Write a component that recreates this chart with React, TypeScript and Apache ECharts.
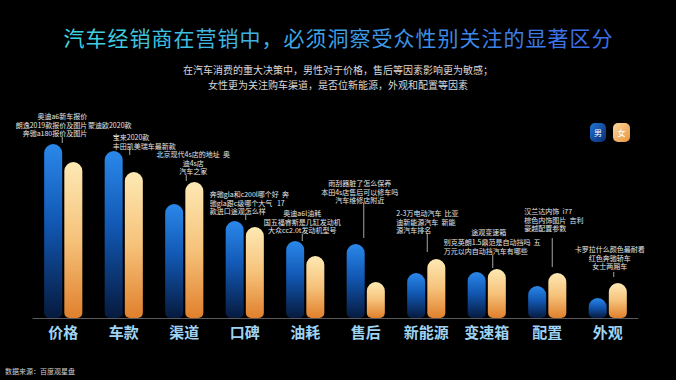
import React, { useEffect, useRef } from 'react';
import * as echarts from 'echarts';

const categories = ['价格', '车款', '渠道', '口碑', '油耗', '售后', '新能源', '变速箱', '配置', '外观'];
const maleValues = [174, 167, 114, 97, 77, 74, 45, 46, 32, 20];
const femaleValues = [156, 146, 136, 91, 62, 36, 59, 49, 45, 35];
const seriesNames = ['男', '女'];
const keywordLines = [
  ['奥迪a6新车报价', '朗逸2019款报价及图片', '奔驰a180报价及图片'],
  ['蒙迪欧2020款', '宝来2020款', '丰田凯美瑞车最新款'],
  ['北京现代4s店的地址  奥', '迪4s店', '汽车之家'],
  ['奔驰gla和c200l哪个好  奔', '驰gla跟c级哪个大气   17', '款进口途观怎么样'],
  ['奥迪a6l油耗', '国五福睿斯是几缸发动机', '大众cc2.0t发动机型号'],
  ['雨刮器脏了怎么保养', '本田4s店售后可以修车吗', '汽车维修店附近'],
  ['2-3万电动汽车  比亚', '迪新能源汽车  新能', '源汽车排名'],
  ['途观变速箱', '别克英朗1.5鼎范是自动挡吗  五', '万元以内自动挡汽车有哪些'],
  ['汉兰达内饰  i77', '棕色内饰图片  吉利', '豪越配置参数'],
  ['卡罗拉什么颜色最耐看', '红色奔驰轿车', '女士两厢车'],
];
const titleText = '汽车经销商在营销中，必须洞察受众性别关注的显著区分';
const subtitleLines = [
  '在汽车消费的重大决策中，男性对于价格，售后等因素影响更为敏感；',
  '女性更为关注购车渠道，是否位新能源，外观和配置等因素',
];
const sourceText = '数据来源：百度观星盘';

// layout of the keyword notes, relative to the top of the taller bar of each category
// leader: [dx, y1, y2]; blocks: [firstLine, lastLine, dx, dy of first line centre, align]
type Align = 'left' | 'center' | 'right';
const noteLayout: { leader: number[]; blocks: [number, number, number, number, Align][] }[] = [
  { leader: [-1, -7, -1], blocks: [[0, 2, 24, -28, 'right']] },
  { leader: [6, -3, 4], blocks: [[0, 0, -14, -26, 'center'], [1, 2, -11, -14, 'left']] },
  { leader: [2, -7, -1], blocks: [[0, 2, 9, -28, 'center']] },
  { leader: [1, -7, -1], blocks: [[0, 2, -35, -27, 'left']] },
  { leader: [-3, -7, 0], blocks: [[0, 2, -3, -28, 'center']] },
  { leader: [-2, -41, -6], blocks: [[0, 2, -6, -61, 'center']] },
  { leader: [1, -26, -7], blocks: [[0, 2, -30, -46, 'left']] },
  { leader: [6, -14, -1], blocks: [[0, 0, 2, -37, 'center'], [1, 2, -43, -27, 'left']] },
  { leader: [5, -35, -6], blocks: [[0, 2, -23, -62, 'left']] },
  { leader: [6, -11, -6], blocks: [[0, 2, 2, -34, 'center']] },
];

const FONT = 'Noto Sans CJK SC';
const NOTE_LH = 8.5;

function mix(a: number[], b: number[], t: number) {
  const c = a.map((v, k) => Math.round(v + (b[k] - v) * t));
  return `rgb(${c[0]},${c[1]},${c[2]})`;
}

export default function App() {
  const ref = useRef<HTMLDivElement>(null);

  useEffect(() => {
    document.body.style.margin = '0';
    document.body.style.background = '#000';
    const chart = echarts.init(ref.current!, undefined, { renderer: 'svg' });
    const LG = echarts.graphic.LinearGradient;

    const blueGrad = new LG(0, 0, 0, 1, [
      { offset: 0, color: '#2a88ea' },
      { offset: 0.45, color: '#1258b4' },
      { offset: 1, color: '#061a3e' },
    ]);
    const orangeGrad = new LG(0, 0, 0, 1, [
      { offset: 0, color: '#fde9b4' },
      { offset: 0.5, color: '#f6c27a' },
      { offset: 1, color: '#e0802c' },
    ]);

    const noteData = categories.map((_, i) => [i, Math.max(maleValues[i], femaleValues[i])]);

    // title with a cyan -> blue colour sweep, one rich style per character
    const chars = Array.from(titleText);
    const rich: any = {};
    chars.forEach((_, k) => {
      rich['c' + k] = {
        color: mix([64, 210, 222], [60, 108, 232], k / (chars.length - 1)),
        fontSize: 21,
        fontFamily: FONT,
        padding: [0, 0.5],
      };
    });
    const titleRich = chars.map((ch, k) => `{c${k}|${ch}}`).join('');

    const option: any = {
      animation: false,
      backgroundColor: '#000',
      title: {
        text: titleRich,
        left: 'center',
        top: 26,
        padding: 0,
        textStyle: { rich, fontSize: 21, fontFamily: FONT, fontWeight: 'normal', color: '#3fa0e0' },
      },
      grid: { left: 33, right: 38, top: 118, bottom: 62 },
      xAxis: {
        type: 'category',
        data: categories,
        axisLine: { lineStyle: { color: '#5a5a5a', width: 1 } },
        axisTick: { show: false },
        axisLabel: {
          interval: 0,
          color: '#9fd3f3',
          fontSize: 15,
          fontWeight: 'bold',
          fontFamily: FONT,
          margin: 6,
        },
      },
      yAxis: { type: 'value', min: 0, max: 200, show: false },
      series: [
        {
          name: seriesNames[0],
          type: 'bar',
          data: maleValues,
          barWidth: 18,
          barGap: '12%',
          itemStyle: { color: blueGrad, borderRadius: [9, 9, 5, 5] },
        },
        {
          name: seriesNames[1],
          type: 'bar',
          data: femaleValues,
          barWidth: 18,
          barGap: '12%',
          itemStyle: { color: orangeGrad, borderRadius: [9, 9, 5, 5] },
        },
        {
          type: 'custom',
          clip: false,
          silent: true,
          data: noteData,
          renderItem: (params: any, api: any) => {
            const i = api.value(0);
            const pt = api.coord([i, api.value(1)]);
            const lay = noteLayout[i];
            const children: any[] = [
              {
                type: 'line',
                shape: {
                  x1: pt[0] + lay.leader[0],
                  y1: pt[1] + lay.leader[1],
                  x2: pt[0] + lay.leader[0],
                  y2: pt[1] + lay.leader[2],
                },
                style: { stroke: '#cfcfcf', lineWidth: 0.8 },
              },
            ];
            lay.blocks.forEach(([a, b, dx, dy, align]) => {
              children.push({
                type: 'text',
                x: pt[0] + dx,
                y: pt[1] + dy - NOTE_LH / 2,
                style: {
                  text: keywordLines[i].slice(a, b + 1).join('\n'),
                  fill: '#e6e6e6',
                  fontSize: 7,
                  lineHeight: NOTE_LH,
                  fontFamily: FONT,
                  align,
                  verticalAlign: 'top',
                },
              });
            });
            return { type: 'group', children };
          },
        },
      ],
      graphic: [
        ...subtitleLines.map((t, k) => ({
          type: 'text',
          left: 'center',
          top: 63 + k * 15,
          style: {
            text: t,
            fontSize: 10,
            lineHeight: 12,
            fontFamily: FONT,
            fill: '#d8d8d8',
          },
        })),
        {
          type: 'text',
          left: 5,
          top: 367,
          style: { text: sourceText, fontSize: 7, fontFamily: FONT, fill: '#cfcfcf' },
        },
        {
          type: 'group',
          left: 590,
          top: 123,
          children: [
            {
              type: 'rect',
              shape: { x: 0, y: 0, width: 16, height: 19, r: 5 },
              style: {
                fill: new LG(0, 0, 1, 1, [
                  { offset: 0, color: '#2174d6' },
                  { offset: 1, color: '#0a2c70' },
                ]),
              },
            },
            {
              type: 'text',
              x: 8,
              y: 9.5,
              style: {
                text: seriesNames[0],
                fill: '#fff',
                fontSize: 8,
                fontFamily: FONT,
                align: 'center',
                verticalAlign: 'middle',
              },
            },
            {
              type: 'rect',
              shape: { x: 23, y: 0, width: 17, height: 19, r: 5 },
              style: {
                fill: new LG(0, 0, 1, 1, [
                  { offset: 0, color: '#fbd9a0' },
                  { offset: 1, color: '#e8943a' },
                ]),
              },
            },
            {
              type: 'text',
              x: 31.5,
              y: 9.5,
              style: {
                text: seriesNames[1],
                fill: '#fff',
                fontSize: 8,
                fontFamily: FONT,
                align: 'center',
                verticalAlign: 'middle',
              },
            },
          ],
        },
      ],
    };

    chart.setOption(option);
    return () => chart.dispose();
  }, []);

  return (
    <div
      ref={ref}
      style={{ position: 'fixed', left: 0, top: 0, width: 676, height: 380, background: '#000' }}
    />
  );
}
